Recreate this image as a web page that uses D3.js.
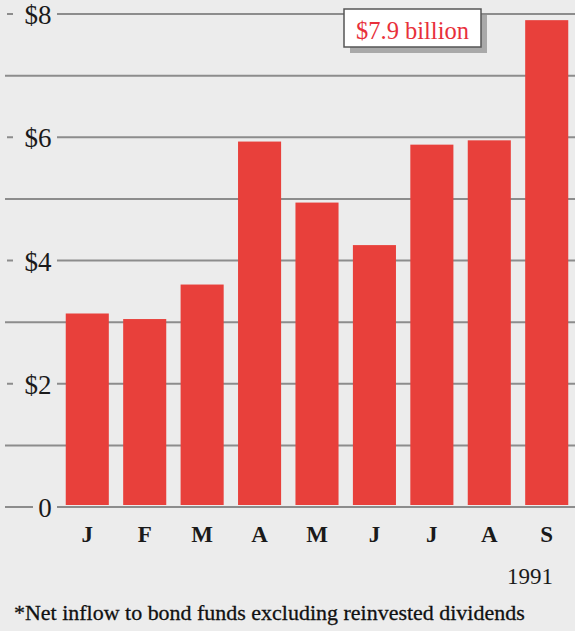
<!DOCTYPE html>
<html><head><meta charset="utf-8">
<script src="https://cdn.jsdelivr.net/npm/d3@7"></script>
<style>
html,body{margin:0;padding:0;background:#ececec;}
svg{display:block;}
</style></head>
<body>
<svg id="chart" width="575" height="631" font-family="'Liberation Serif', 'Times New Roman', 'DejaVu Serif', serif"></svg>
<script>
const months = ["J","F","M","A","M","J","J","A","S"];
const values = [3.14, 3.05, 3.61, 5.93, 4.94, 4.25, 5.88, 5.95, 7.9];
const majorTicks = [0, 2, 4, 6, 8];
const minorTicks = [1, 3, 5, 7];
const tickLabels = ["0", "$2", "$4", "$6", "$8"];
const calloutText = "$7.9 billion";
const yearLabel = "1991";
const footnote = "*Net inflow to bond funds excluding reinvested dividends";

const svg = d3.select("#chart");
const W = 575, H = 631;
svg.append("rect").attr("width", W).attr("height", H).attr("fill", "#ececec");

const y = d3.scaleLinear().domain([0, 8]).range([507, 14]);
const x = d3.scaleBand().domain(d3.range(months.length)).range([60, 574]).paddingInner(0.25).paddingOuter(0.1);

function fit(sel, width) {
  const node = sel.node();
  const w = node.getComputedTextLength();
  const fs = parseFloat(sel.attr("font-size"));
  sel.attr("font-size", fs * width / w);
}

const gridColor = "#8c8c8c";
svg.append("g").selectAll("line").data(minorTicks).join("line")
  .attr("x1", 5).attr("x2", W).attr("y1", d => y(d)).attr("y2", d => y(d))
  .attr("stroke", gridColor).attr("stroke-width", 2);
const maj = svg.append("g").selectAll("g").data(majorTicks).join("g");
maj.append("line").attr("x1", d => d === 0 ? 5 : 7).attr("x2", d => d === 0 ? 33 : 13)
  .attr("y1", d => y(d)).attr("y2", d => y(d)).attr("stroke", gridColor).attr("stroke-width", 2);
maj.append("line").attr("x1", 57).attr("x2", W)
  .attr("y1", d => y(d)).attr("y2", d => y(d)).attr("stroke", gridColor).attr("stroke-width", 2);
maj.append("text").attr("x", d => d === 0 ? 45 : 38).attr("y", d => y(d) + 10)
  .attr("text-anchor", "middle").attr("font-size", 27).attr("fill", "#1a1a1a")
  .text((d, i) => tickLabels[i]);

svg.append("g").selectAll("rect").data(values).join("rect")
  .attr("x", (d, i) => x(i)).attr("width", x.bandwidth())
  .attr("y", d => y(d)).attr("height", d => y(0) - 2 - y(d))
  .attr("fill", "#e8403b");

svg.append("g").selectAll("text").data(months).join("text")
  .attr("x", (d, i) => x(i) + x.bandwidth() / 2).attr("y", 542)
  .attr("text-anchor", "middle").attr("font-size", 23).attr("font-weight", "bold")
  .attr("fill", "#1a1a1a").text(d => d);

const yr = svg.append("text").attr("x", 553).attr("y", 584).attr("text-anchor", "end")
  .attr("font-size", 23).attr("fill", "#1a1a1a").text(yearLabel);
fit(yr, 46);

const fn = svg.append("text").attr("x", 14).attr("y", 620).attr("font-size", 21)
  .attr("fill", "#111").attr("stroke", "#111").attr("stroke-width", 0.3).text(footnote);
fit(fn, 511);

const cb = {x: 344, y: 9, w: 137, h: 38};
svg.append("rect").attr("x", cb.x + 6).attr("y", cb.y + 6).attr("width", cb.w).attr("height", cb.h).attr("fill", "#a9a9a9");
svg.append("rect").attr("x", cb.x).attr("y", cb.y).attr("width", cb.w).attr("height", cb.h)
  .attr("fill", "#ffffff").attr("stroke", "#555").attr("stroke-width", 1.5);
const ct = svg.append("text").attr("x", cb.x + cb.w / 2).attr("y", 39).attr("text-anchor", "middle")
  .attr("font-size", 24).attr("fill", "#e8303a").text(calloutText);
fit(ct, 113);
</script>
</body></html>
